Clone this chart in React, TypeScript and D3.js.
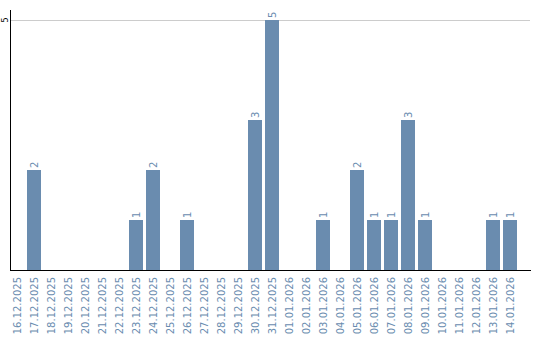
import React from "react";
import * as d3 from "d3";

const categories: string[] = [
  "16.12.2025", "17.12.2025", "18.12.2025", "19.12.2025", "20.12.2025",
  "21.12.2025", "22.12.2025", "23.12.2025", "24.12.2025", "25.12.2025",
  "26.12.2025", "27.12.2025", "28.12.2025", "29.12.2025", "30.12.2025",
  "31.12.2025", "01.01.2026", "02.01.2026", "03.01.2026", "04.01.2026",
  "05.01.2026", "06.01.2026", "07.01.2026", "08.01.2026", "09.01.2026",
  "10.01.2026", "11.01.2026", "12.01.2026", "13.01.2026", "14.01.2026",
];
const values: number[] = [
  0, 2, 0, 0, 0, 0, 0, 1, 2, 0,
  1, 0, 0, 0, 3, 5, 0, 0, 1, 0,
  2, 1, 1, 3, 1, 0, 0, 0, 1, 1,
];
const yTicks: number[] = [5];

const W = 540;
const H = 340;
const BLUE = "#6a8caf";
const FONT = "DejaVu Sans, Verdana, sans-serif";

export default function App() {
  const x = d3
    .scaleBand<string>()
    .domain(categories)
    .range([10, 517])
    .paddingInner(3 / 17)
    .paddingOuter(0);
  const y = d3.scaleLinear().domain([0, 5]).range([270, 20]);
  const bw = x.bandwidth();

  return (
    <svg
      width={W}
      height={H}
      style={{ position: "absolute", left: 0, top: 0, background: "#fff" }}
    >
      {yTicks.map((t) => (
        <g key={t}>
          <line x1={10} x2={530} y1={y(t)} y2={y(t)} stroke="#cccccc" strokeWidth={1} shapeRendering="crispEdges" />
          <text
            transform={`translate(5,${y(t)}) rotate(-90)`}
            textAnchor="middle"
            dy="0.35em"
            fontSize={8}
            fontFamily={FONT}
            fill="#000"
          >
            {t}
          </text>
        </g>
      ))}
      {categories.map((c, i) =>
        values[i] > 0 ? (
          <g key={c}>
            <rect x={x(c)} y={y(values[i])} width={bw} height={y(0) - y(values[i])} fill={BLUE} />
            <text
              transform={`translate(${(x(c) as number) + bw / 2},${y(values[i]) - 2}) rotate(-90)`}
              textAnchor="start"
              dy="0.35em"
              fontSize={10}
              fontFamily={FONT}
              fill={BLUE}
            >
              {values[i]}
            </text>
          </g>
        ) : null
      )}
      <line x1={10.5} x2={10.5} y1={10} y2={270} stroke="#000" strokeWidth={1} />
      <line x1={10} x2={531} y1={270.5} y2={270.5} stroke="#000" strokeWidth={1} />
      {categories.map((c) => (
        <text
          key={"l" + c}
          transform={`translate(${(x(c) as number) + bw / 2},277) rotate(-90)`}
          textAnchor="end"
          dy="0.35em"
          fontSize={10}
          fontFamily={FONT}
          fill={BLUE}
        >
          {c}
        </text>
      ))}
    </svg>
  );
}
